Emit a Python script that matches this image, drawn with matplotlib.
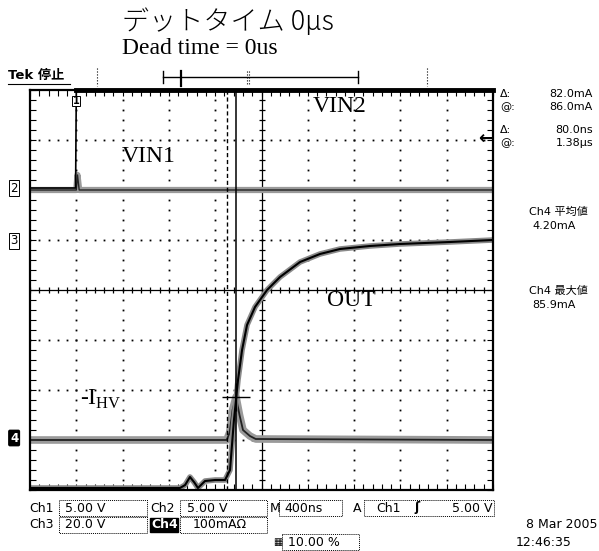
import numpy as np
import matplotlib.pyplot as plt
from matplotlib.patches import Rectangle

# time axis in ns (400 ns/div, 0 = centre of screen), levels in divisions
vin1_t = [-2000, -1606, -1600, 2000]
vin1_y = [2.04, 2.04, 4.0, 4.0]

vin2_t = [-2000, -1600, -1590, -1575, 2000]
vin2_y = [2.0, 2.0, 2.3, 2.0, 2.0]

out_t = [-2000, -704, -660, -618, -580, -549, -488, -400, -315, -272, -238,
         -203, -168, -125, -56, 48, 160, 333, 505, 678, 937, 1196, 1628, 2000]
out_y = [-3.96, -3.96, -3.9, -3.74, -3.85, -3.96, -3.82, -3.8, -3.8, -3.6, -2.6,
         -1.8, -1.2, -0.7, -0.34, 0.0, 0.26, 0.56, 0.72, 0.82, 0.88, 0.92, 0.96, 1.0]

ihv_t = [-2000, -300, -275, -250, -220, -190, -160, -100, -50, 2000]
ihv_y = [-3.0, -3.0, -2.85, -2.4, -2.14, -2.5, -2.8, -2.92, -2.98, -3.0]

cursor_t = [-300, -220]
peak_y = -2.14

title_jp = "デットタイム 0μs"
title_en = "Dead time = 0us"
readout_lbl = ["Δ:", "@:", "Δ:", "@:"]
readout_val = ["82.0mA", "86.0mA", "80.0ns", "1.38µs"]

fig = plt.figure(figsize=(5.99, 5.51), dpi=100)
W, H = 599, 551
gl, gr, gt, gb = 30, 493, 90, 490
ax = fig.add_axes([gl / W, 1 - gb / H, (gr - gl) / W, (gb - gt) / H])
ax.set_xlim(-2000, 2000)
ax.set_ylim(-4, 4)

# graticule
for s in ax.spines.values():
    s.set_linewidth(1.6)
ax.set_xticks(np.arange(-2000, 2001, 80))
ax.set_yticks(np.arange(-4, 4.01, 0.2))
ax.tick_params(direction="in", length=4, width=0.8, top=True, right=True,
               labelbottom=False, labelleft=False)
for xv in np.arange(-1600, 1601, 400):
    if xv == 0:
        continue
    yy = np.arange(-4, 4.01, 0.2)
    ax.plot(np.full_like(yy, xv), yy, ls="none", marker="s", ms=1.3, color="k", mew=0)
for yv in range(-3, 4):
    if yv == 0:
        continue
    xx = np.arange(-2000, 2001, 80)
    ax.plot(xx, np.full_like(xx, yv, dtype=float), ls="none", marker="s", ms=1.3,
            color="k", mew=0)
ax.axhline(0, color="k", lw=0.9)
ax.axvline(0, color="k", lw=0.9)
xx = np.arange(-2000, 2001, 80)
ax.plot(xx, np.zeros_like(xx), ls="none", marker="|", ms=5, color="k", mew=0.9)
yy = np.arange(-4, 4.01, 0.2)
ax.plot(np.zeros_like(yy), yy, ls="none", marker="_", ms=5, color="k", mew=0.9)

# traces
ax.plot(vin2_t, vin2_y, color="#9a9a9a", lw=4.5, solid_capstyle="butt")
ax.plot(vin2_t, vin2_y, color="#222222", lw=1.0)
ax.plot(vin1_t, vin1_y, color="k", lw=1.2)
ax.plot(vin1_t[2:], vin1_y[2:], color="k", lw=3.5, clip_on=False)
ax.plot(ihv_t, ihv_y, color="#9a9a9a", lw=5.5, solid_capstyle="butt")
ax.plot(ihv_t, ihv_y, color="#222222", lw=1.3)
ax.plot(out_t, out_y, color="#8a8a8a", lw=4.0)
ax.plot(out_t, out_y, color="k", lw=1.5)

# cursors
ax.axvline(cursor_t[0], color="k", lw=1.0, ls=(0, (3, 2)))
ax.axvline(cursor_t[1], color="k", lw=1.1)
ax.plot(cursor_t[1], peak_y, marker="+", ms=20, mew=1.0, color="k")

# overlay in pixel coordinates for text
ov = fig.add_axes([0, 0, 1, 1], facecolor="none")
ov.set_xlim(0, W)
ov.set_ylim(H, 0)
ov.axis("off")

ov.text(122, 22, title_jp, fontsize=19.5, family=["Noto Sans CJK JP"],
        fontweight="light", va="center")
ov.text(122, 49, title_en, fontsize=17, family="Liberation Serif", va="center")

sans = ["DejaVu Sans", "Noto Sans CJK JP"]
ov.text(8, 75, "Tek 停止", fontsize=9.5, family=sans, fontweight="bold",
        va="center")
ov.plot([8, 70], [84, 84], color="k", lw=0.8)
ov.plot([163, 358], [77, 77], color="k", lw=1.0)
ov.plot([163, 163], [71, 83], color="k", lw=1.0)
ov.plot([358, 358], [71, 83], color="k", lw=1.0)
ov.plot([181, 181], [71, 86], color="k", lw=1.6)
ov.plot([247, 247], [71, 84], color="k", lw=0.8, ls=":")
ov.plot([249, 249], [71, 84], color="k", lw=0.8, ls=":")
ov.plot([97, 97], [68, 86], color="k", lw=0.8, ls=":")
ov.plot([427, 427], [68, 86], color="k", lw=0.8, ls=":")

serif = "Liberation Serif"
ov.text(122, 157, "VIN1", fontsize=17, family=serif, va="center")
ov.text(313, 107, "VIN2", fontsize=17, family=serif, va="center")
ov.text(327, 300, "OUT", fontsize=17, family=serif, va="center")
ov.text(80, 399, r"-I$_{\mathregular{HV}}$", fontsize=17, family=serif, va="center")

# channel markers
box = dict(boxstyle="square,pad=0.1", fc="white", ec="k", lw=0.7)
ov.text(10, 188, "2", fontsize=8.5, family=sans, va="center", bbox=box)
ov.text(10, 241, "3", fontsize=8.5, family=sans, va="center", bbox=box)
ov.text(10, 438, "4", fontsize=8.5, family=sans, va="center", color="white",
        fontweight="bold", bbox=dict(boxstyle="round,pad=0.1", fc="k", ec="k"))
ov.text(76, 101, "1", fontsize=7, family=sans, ha="center", va="center",
        fontweight="bold", bbox=dict(boxstyle="square,pad=0.05", fc="white", ec="k", lw=0.7))
ov.text(486, 139, "←", fontsize=13, family=sans, ha="center", va="center",
        fontweight="bold")

# readouts on the right
for i, (lb, vl) in enumerate(zip(readout_lbl, readout_val)):
    yy0 = [94, 107, 130, 143][i]
    ov.text(500, yy0, lb, fontsize=8, family=sans, va="center")
    ov.text(593, yy0, vl, fontsize=8, family=sans, va="center", ha="right")
ov.text(558, 212, "Ch4 平均値", fontsize=8, family=sans, ha="center", va="center")
ov.text(554, 226, "4.20mA", fontsize=8, family=sans, ha="center", va="center")
ov.text(558, 291, "Ch4 最大値", fontsize=8, family=sans, ha="center", va="center")
ov.text(554, 305, "85.9mA", fontsize=8, family=sans, ha="center", va="center")

# bottom status rows
r1, r2, r3 = 508, 525, 542
fs = 9


def dotbox(x0, x1, yc):
    ov.add_patch(Rectangle((x0, yc - 8), x1 - x0, 16, fill=False, ec="k",
                           lw=0.7, ls=(0, (1, 1))))


ov.text(29, r1, "Ch1", fontsize=fs, family=sans, va="center")
dotbox(59, 147, r1)
ov.text(65, r1, "5.00 V", fontsize=fs, family=sans, va="center")
ov.text(150, r1, "Ch2", fontsize=fs, family=sans, va="center")
dotbox(180, 267, r1)
ov.text(187, r1, "5.00 V", fontsize=fs, family=sans, va="center")
ov.text(270, r1, "M", fontsize=fs, family=sans, va="center")
dotbox(279, 342, r1)
ov.text(284, r1, "400ns", fontsize=fs, family=sans, va="center")
ov.text(353, r1, "A", fontsize=fs, family=sans, va="center")
dotbox(364, 494, r1)
ov.text(376, r1, "Ch1", fontsize=fs, family=sans, va="center")
ov.text(414, r1, "ʃ", fontsize=fs, family=sans, va="center", fontweight="bold")
ov.text(492, r1, "5.00 V", fontsize=fs, family=sans, va="center", ha="right")

ov.text(29, r2, "Ch3", fontsize=fs, family=sans, va="center")
dotbox(59, 147, r2)
ov.text(65, r2, "20.0 V", fontsize=fs, family=sans, va="center")
ov.text(151, r2, "Ch4", fontsize=fs, family=sans, va="center", color="white",
        fontweight="bold", bbox=dict(boxstyle="square,pad=0.05", fc="k", ec="k"))
dotbox(180, 267, r2)
ov.text(193, r2, "100mAΩ", fontsize=fs, family=sans, va="center")

ov.text(273, r3, "▦", fontsize=7, family=sans, va="center")
dotbox(282, 359, r3)
ov.text(288, r3, "10.00 %", fontsize=fs, family=sans, va="center")

ov.text(597, r2, "8 Mar 2005", fontsize=fs, family=sans, va="center", ha="right")
ov.text(572, r3, "12:46:35", fontsize=fs, family=sans, va="center", ha="right")

fig.savefig("out.png", dpi=100)
